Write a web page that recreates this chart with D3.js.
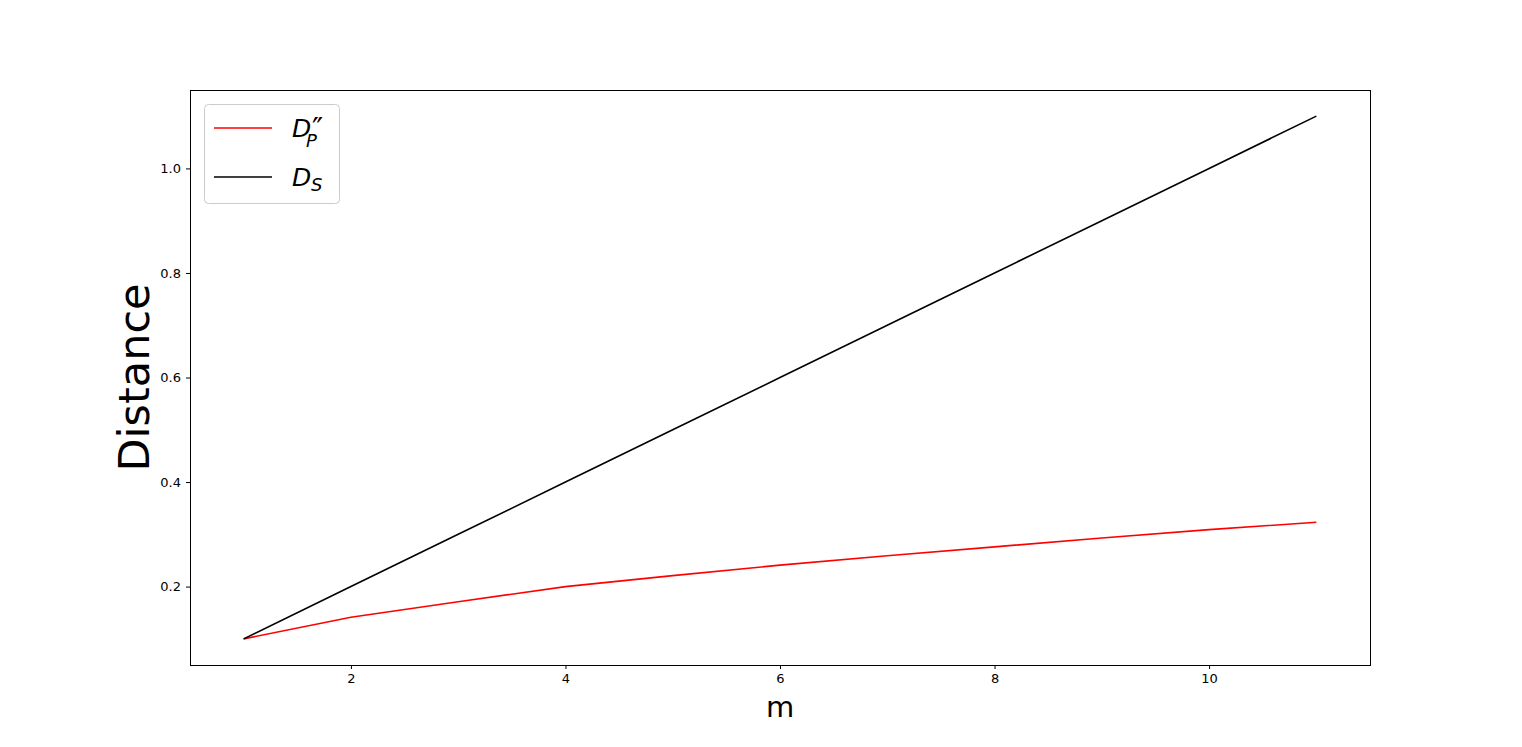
<!DOCTYPE html>
<html><head><meta charset="utf-8">
<script src="https://cdn.jsdelivr.net/npm/d3@7"></script>
<style>body{margin:0;background:#fff}svg{display:block}text{font-family:"DejaVu Sans",sans-serif}</style>
</head><body><svg id="c" width="1522" height="747"></svg>
<script>
const mValues = [1,2,3,4,5,6,7,8,9,10,11];
const dpValues = [0.1,0.1414,0.171,0.2,0.221,0.241,0.259,0.276,0.293,0.309,0.323];
const dsValues = [0.1,0.2,0.3,0.4,0.5,0.6,0.7,0.8,0.9,1.0,1.1];
const xTicks = [2,4,6,8,10];
const yTicks = [0.2,0.4,0.6,0.8,1.0];

const svg = d3.select("#c");
const L=190,R=1370,T=90,B=665;
const x = d3.scaleLinear().domain([0.5,11.5]).range([L,R]);
const y = d3.scaleLinear().domain([0.05,1.15]).range([B,T]);

const gx = svg.append("g").attr("transform",`translate(0,${B})`)
  .call(d3.axisBottom(x).tickValues(xTicks).tickFormat(d3.format("d")).tickSize(4).tickPadding(5));
const gy = svg.append("g").attr("transform",`translate(${L},0)`)
  .call(d3.axisLeft(y).tickValues(yTicks).tickFormat(d3.format(".1f")).tickSize(4).tickPadding(5));
[gx,gy].forEach(g=>{g.select(".domain").remove();g.selectAll("text").attr("font-size",13).attr("fill","#000").attr("font-family","DejaVu Sans");g.selectAll("line").attr("stroke","#000").attr("stroke-width",1);});

const line = d3.line().x((d,i)=>x(mValues[i])).y(d=>y(d));
svg.append("path").datum(dpValues).attr("d",line).attr("fill","none").attr("stroke","#ff0000").attr("stroke-width",1.6);
svg.append("path").datum(dsValues).attr("d",line).attr("fill","none").attr("stroke","#000").attr("stroke-width",1.6);

svg.append("rect").attr("x",L+0.5).attr("y",T+0.5).attr("width",R-L).attr("height",B-T).attr("fill","none").attr("stroke","#000").attr("stroke-width",1);

svg.append("text").attr("x",(L+R)/2).attr("y",717).attr("text-anchor","middle").attr("font-size",29).text("m");
svg.append("text").attr("transform",`translate(149,${(T+B)/2}) rotate(-90)`).attr("text-anchor","middle").attr("font-size",43).text("Distance");

// legend
const lg = svg.append("g");
lg.append("rect").attr("x",204.5).attr("y",104.5).attr("width",135).attr("height",99).attr("rx",4).attr("fill","#fff").attr("fill-opacity",0.8).attr("stroke","#ccc").attr("stroke-width",1);
const items=[{c:"#ff0000",sub:"P",prime:true,y:128},{c:"#000",sub:"S",prime:false,y:177}];
items.forEach(it=>{
  lg.append("line").attr("x1",214).attr("x2",272).attr("y1",it.y).attr("y2",it.y).attr("stroke",it.c).attr("stroke-width",1.6);
  lg.append("text").attr("x",292).attr("y",it.y+9).attr("font-size",25).attr("font-style","italic").text("D");
  if(it.prime){
    lg.append("text").attr("x",312).attr("y",it.y+11).attr("font-size",30).text("\u2033");
    lg.append("text").attr("x",306).attr("y",it.y+19).attr("font-size",18).attr("font-style","italic").text(it.sub);
  } else {
    lg.append("text").attr("x",311).attr("y",it.y+14).attr("font-size",18).attr("font-style","italic").text(it.sub);
  }
});
</script></body></html>
